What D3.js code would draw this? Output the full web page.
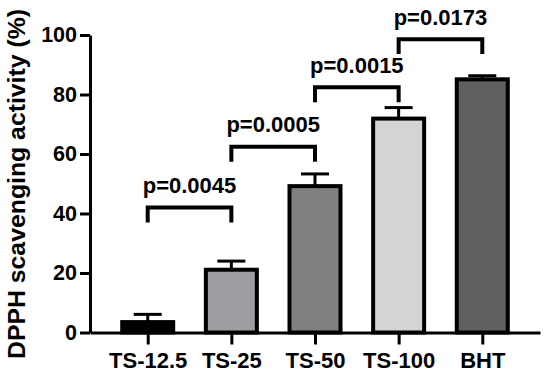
<!DOCTYPE html>
<html>
<head>
<meta charset="utf-8">
<script src="https://cdn.jsdelivr.net/npm/d3@7"></script>
<style>
  body { margin: 0; background: #fff; }
  svg text { font-family: "Liberation Sans", Arial, sans-serif; font-weight: bold; fill: #000; }
</style>
</head>
<body>
<svg id="chart" width="550" height="378"></svg>
<script>
// 数据
var groups = ["TS-12.5", "TS-25", "TS-50", "TS-100", "BHT"];
var means = [3.5, 21.1, 49.2, 71.9, 85.1];
var errs = [2.6, 2.9, 4.1, 3.7, 1.2];
var fills = ["#000000", "#9e9ea2", "#808080", "#d4d4d4", "#606060"];
var yTicks = [0, 20, 40, 60, 80, 100];
// 显著性标注: 比较组, p值, 横线高度
var pairs = [["TS-12.5", "TS-25"], ["TS-25", "TS-50"], ["TS-50", "TS-100"], ["TS-100", "BHT"]];
var pLabels = ["p=0.0045", "p=0.0005", "p=0.0015", "p=0.0173"];
var bracketLevels = [42, 62.4, 82.4, 98.6];

var svg = d3.select("#chart");

// 比例尺
var x = d3.scalePoint()
    .domain(groups)
    .range([90, 540])
    .padding(0.69);
var y = d3.scaleLinear()
    .domain([0, 100])
    .range([332.5, 35]);

var barW = 51;

// 误差线 (只画上方)
var eb = svg.append("g").attr("stroke", "#000").attr("stroke-width", 3);
groups.forEach(function(g, i) {
    eb.append("line")
        .attr("x1", x(g)).attr("x2", x(g))
        .attr("y1", y(means[i])).attr("y2", y(means[i] + errs[i]));
    eb.append("line")
        .attr("x1", x(g) - 14).attr("x2", x(g) + 14)
        .attr("y1", y(means[i] + errs[i])).attr("y2", y(means[i] + errs[i]));
});

// 柱子
svg.append("g").selectAll("rect")
    .data(groups)
    .enter().append("rect")
    .attr("x", function(d) { return x(d) - barW / 2; })
    .attr("y", function(d, i) { return y(means[i]); })
    .attr("width", barW)
    .attr("height", function(d, i) { return y(0) - y(means[i]); })
    .attr("fill", function(d, i) { return fills[i]; })
    .attr("stroke", "#000")
    .attr("stroke-width", 4);

// 坐标轴
var yAxis = svg.append("g")
    .attr("transform", "translate(90,0)")
    .call(d3.axisLeft(y).tickValues(yTicks).tickSize(10).tickSizeOuter(0).tickPadding(3));
var xAxis = svg.append("g")
    .attr("transform", "translate(0," + y(0) + ")")
    .call(d3.axisBottom(x).tickSize(12).tickSizeOuter(0).tickPadding(8));
[yAxis, xAxis].forEach(function(a) {
    a.select(".domain").attr("stroke", "#000").attr("stroke-width", 3);
    a.selectAll(".tick line").attr("stroke", "#000").attr("stroke-width", 3);
    a.selectAll(".tick text").attr("fill", "#000");
});
yAxis.selectAll(".tick text").style("font-size", "21.5px");
xAxis.selectAll(".tick text").style("font-size", "22px");

// y轴标题
svg.append("text")
    .attr("transform", "translate(25,184) rotate(-90)")
    .attr("text-anchor", "middle")
    .style("font-size", "24.8px")
    .text("DPPH scavenging activity (%)");

// 显著性括号
var br = svg.append("g");
pairs.forEach(function(p, i) {
    var x1 = x(p[0]), x2 = x(p[1]);
    var yl = y(bracketLevels[i]), yb = y(bracketLevels[i] - 5);
    br.append("path")
        .attr("d", "M" + x1 + "," + yb + "V" + yl + "H" + x2 + "V" + yb)
        .attr("fill", "none")
        .attr("stroke", "#000")
        .attr("stroke-width", 4);
    br.append("text")
        .attr("x", (x1 + x2) / 2)
        .attr("y", yl - 14.5)
        .attr("text-anchor", "middle")
        .style("font-size", "22px")
        .text(pLabels[i]);
});
</script>
</body>
</html>
